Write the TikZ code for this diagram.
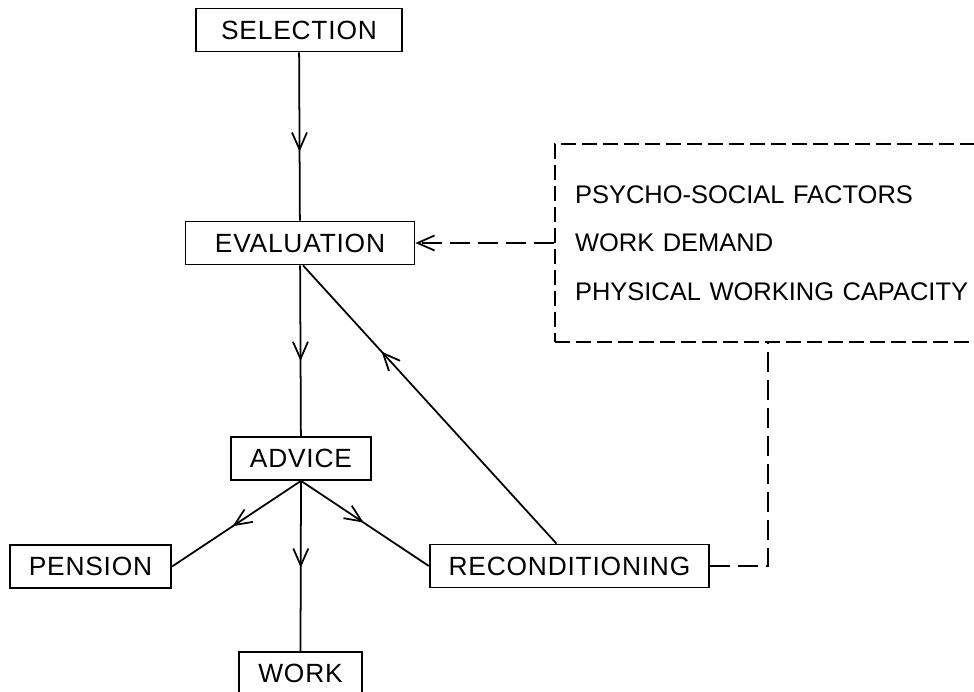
\documentclass[tikz,border=0pt]{standalone}
\usepackage{fontspec}
\setsansfont{Liberation Sans}
\newfontfamily\lettrage{Liberation Sans}[LetterSpace=3]
\usetikzlibrary{arrows.meta}
\usetikzlibrary{decorations.markings}
\tikzset{
	boite/.style = {rectangle, draw=black, line width=1pt, align=center,
		inner xsep=0.38cm, inner ysep=0pt, minimum height=0.86cm,
		font=\lettrage\fontsize{15}{18}\selectfont},% case du schema
	cadre/.style = {rectangle, draw=black, line width=1pt,
		dash pattern=on 0.3cm off 0.12cm, align=left, text width=7.72cm,
		inner xsep=0.4cm, minimum height=3.96cm,
		font=\sffamily\fontsize{14.5}{27.6}\selectfont},% cadre des facteurs
	fleche/.style = {postaction={decorate}, decoration={markings,
		mark=at position #1 with {\arrow{>}}}},% fleche au milieu du trait
	tirets/.style = {line width=1pt, dash pattern=on 0.4cm off 0.16cm}% liaison en tirets
}

\begin{document}
\begin{tikzpicture}[>={Straight Barb[length=0.34cm,width=0.3cm]},
		x=0.02cm, y=-0.02cm, line width=1pt]
	\useasboundingbox (0,0) rectangle (974,692);
	\clip (0,0) rectangle (974,692);
	\node[boite, minimum width=4.12cm] (sel) at (299,30) {SELECTION};
	\node[boite, minimum width=4.58cm] (eval) at (300,243) {EVALUATION};
	\node[boite] (advice) at (301,458.5) {ADVICE};
	\node[boite] (pension) at (90.5,566.5) {PENSION};
	\node[boite] (work) at (300.5,673.5) {WORK};
	\node[boite] (recond) at (569.5,566) {RECONDITIONING};
	\node[cadre] (factors) at (768,243) {PSYCHO-SOCIAL FACTORS\\
		WORK DEMAND\\
		\mbox{PHYSICAL WORKING CAPACITY}};

	\draw[fleche=0.59] (sel) -- (eval);
	\draw[fleche=0.56] (eval) -- (advice);
	\draw[fleche=0.53] (advice.south) -- (pension.east);
	\draw[fleche=0.51] (advice.south) -- (work.north);
	\draw[fleche=0.49] (advice.south) -- (recond.west);
	\draw[fleche=0.69] ([xshift=-0.26cm]recond.north) -- ([xshift=0.06cm]eval.south);
	\draw[tirets, ->] (factors.west) -- (eval.east);
	\draw[tirets] (recond.east) -| (factors.south);
\end{tikzpicture}
\end{document}
